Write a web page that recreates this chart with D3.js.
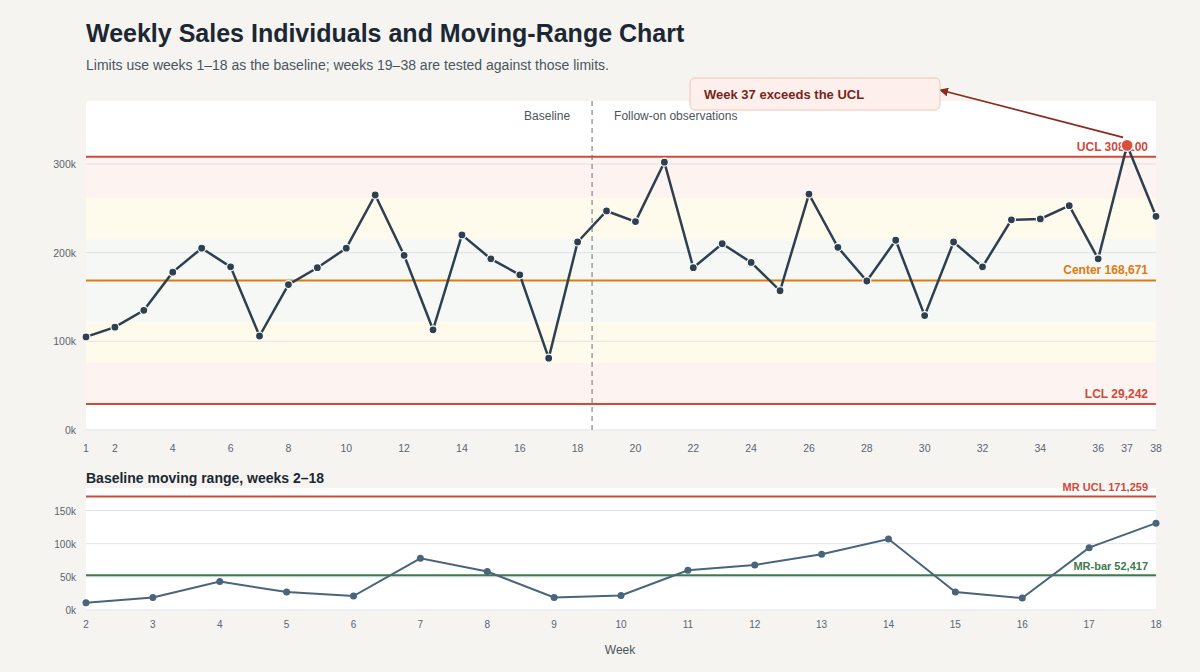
<!DOCTYPE html>
<html><head><meta charset="utf-8">
<script src="https://cdn.jsdelivr.net/npm/d3@7"></script>
<style>body{margin:0;background:#f6f4f0;font-family:"Liberation Sans",Arial,sans-serif}</style>
</head><body><svg id="c" width="1200" height="672"></svg>
<script>
const weeks = d3.range(1, 39);
const sales = [105,116,135,178,205,184,106,164,183,205,265,197,113,220,193,175,81,212,
  247,235,302,183,210,189,157,266,206,168,214,129,212,184,237,238,253,193,321,241].map(v=>v*1000);
const center = 168671, ucl = 308100, lcl = 29242, mrBar = 52417, mrUcl = 171259;
const xTicks = [1,2,4,6,8,10,12,14,16,18,20,22,24,26,28,30,32,34,36,37,38];
const yTicks = [0,100000,200000,300000];
const mrTicks = [0,50000,100000,150000];
const baselineEnd = 18, signalWeek = 37;

const svg = d3.select("#c");
const L=86,R=1156;
svg.append("text").attr("x",L).attr("y",42).attr("font-size",25).attr("font-weight","bold").attr("fill","#1b2733").text("Weekly Sales Individuals and Moving-Range Chart");
svg.append("text").attr("x",L).attr("y",70).attr("font-size",14).attr("fill","#4a5560").text("Limits use weeks 1–18 as the baseline; weeks 19–38 are tested against those limits.");

// top chart
const T1=101,B1=430;
const x = d3.scaleLinear().domain([1,38]).range([L,R]);
const y = d3.scaleLinear().domain([0,371000]).range([B1,T1]);
const g = svg.append("g");
g.append("rect").attr("x",L).attr("y",T1).attr("width",R-L).attr("height",B1-T1).attr("fill","#fff").attr("rx",3);
const s = (ucl-center)/3;
const zones=[[lcl,center-2*s,"#fdf3f1"],[center-2*s,center-s,"#fefaec"],[center-s,center+s,"#f6f8f5"],[center+s,center+2*s,"#fefaec"],[center+2*s,ucl,"#fdf3f1"]];
zones.forEach(z=>g.append("rect").attr("x",L).attr("width",R-L).attr("y",y(z[1])).attr("height",y(z[0])-y(z[1])).attr("fill",z[2]));
yTicks.forEach(t=>{g.append("line").attr("x1",L).attr("x2",R).attr("y1",y(t)).attr("y2",y(t)).attr("stroke","#dfe3e8");
  g.append("text").attr("x",L-10).attr("y",y(t)+4).attr("text-anchor","end").attr("font-size",10.5).attr("fill","#5a6570").text(t/1000+"k");});
xTicks.forEach(t=>g.append("text").attr("x",x(t)).attr("y",452).attr("text-anchor","middle").attr("font-size",10.5).attr("fill","#5a6570").text(t));
const xb = x(baselineEnd+0.5);
g.append("line").attr("x1",xb).attr("x2",xb).attr("y1",T1).attr("y2",B1).attr("stroke","#8a9199").attr("stroke-dasharray","5,4").attr("stroke-width",1.3);
g.append("text").attr("x",xb-22).attr("y",120).attr("text-anchor","end").attr("font-size",12).attr("fill","#4a5560").text("Baseline");
g.append("text").attr("x",xb+22).attr("y",120).attr("font-size",12).attr("fill","#4a5560").text("Follow-on observations");
[[ucl,"#d04a3a","UCL 308,100",-6],[center,"#e07a10","Center 168,671",-6],[lcl,"#d04a3a","LCL 29,242",-6]].forEach(l=>{
  g.append("line").attr("x1",L).attr("x2",R).attr("y1",y(l[0])).attr("y2",y(l[0])).attr("stroke",l[1]).attr("stroke-width",2);
  g.append("text").attr("x",R-8).attr("y",y(l[0])+l[3]).attr("text-anchor","end").attr("font-size",12).attr("font-weight","bold").attr("fill",l[1]).text(l[2]);});
const data = weeks.map((w,i)=>({w,v:sales[i]}));
g.append("path").datum(data).attr("d",d3.line().x(d=>x(d.w)).y(d=>y(d.v))).attr("fill","none").attr("stroke","#2e3f50").attr("stroke-width",2.5);
g.selectAll(".p").data(data).join("circle").attr("cx",d=>x(d.w)).attr("cy",d=>y(d.v)).attr("r",d=>d.w===signalWeek?6:4)
  .attr("fill",d=>d.w===signalWeek?"#d64f3f":"#2e3f50").attr("stroke","#fff").attr("stroke-width",1.2);
// annotation
svg.append("defs").append("marker").attr("id","ar").attr("viewBox","0 0 10 10").attr("refX",9).attr("refY",5).attr("markerWidth",5).attr("markerHeight",5).attr("orient","auto")
  .append("path").attr("d","M0,0L10,5L0,10z").attr("fill","#8b2a1f");
const sx=x(signalWeek), sy=y(sales[signalWeek-1]);
svg.append("line").attr("x1",sx-4).attr("y1",sy-8).attr("x2",940).attr("y2",90).attr("stroke","#8b2a1f").attr("stroke-width",1.8).attr("marker-end","url(#ar)");
svg.append("rect").attr("x",690).attr("y",78).attr("width",250).attr("height",32).attr("rx",5).attr("fill","#fdf0ec").attr("stroke","#f0c4b8");
svg.append("text").attr("x",704).attr("y",99).attr("font-size",13).attr("font-weight","bold").attr("fill","#7a2419").text("Week 37 exceeds the UCL");

// MR chart
const mrData = data.slice(1,baselineEnd).map((d,i)=>({w:d.w,v:Math.abs(d.v-data[i].v)}));
const T2=488,B2=610;
svg.append("text").attr("x",L).attr("y",483).attr("font-size",14).attr("font-weight","bold").attr("fill","#1b2733").text("Baseline moving range, weeks 2–18");
const x2 = d3.scaleLinear().domain([2,18]).range([L,R]);
const y2 = d3.scaleLinear().domain([0,184000]).range([B2,T2]);
svg.append("rect").attr("x",L).attr("y",T2).attr("width",R-L).attr("height",B2-T2).attr("fill","#fff");
mrTicks.forEach(t=>{svg.append("line").attr("x1",L).attr("x2",R).attr("y1",y2(t)).attr("y2",y2(t)).attr("stroke","#dfe3e8");
  svg.append("text").attr("x",L-10).attr("y",y2(t)+4).attr("text-anchor","end").attr("font-size",10).attr("fill","#5a6570").text(t/1000+"k");});
d3.range(2,19).forEach(t=>svg.append("text").attr("x",x2(t)).attr("y",628).attr("text-anchor","middle").attr("font-size",10).attr("fill","#5a6570").text(t));
[[mrUcl,"#d04a3a","MR UCL 171,259"],[mrBar,"#3d7a50","MR-bar 52,417"]].forEach(l=>{
  svg.append("line").attr("x1",L).attr("x2",R).attr("y1",y2(l[0])).attr("y2",y2(l[0])).attr("stroke",l[1]).attr("stroke-width",2);
  svg.append("text").attr("x",R-8).attr("y",y2(l[0])-5).attr("text-anchor","end").attr("font-size",11).attr("font-weight","bold").attr("fill",l[1]).text(l[2]);});
svg.append("path").datum(mrData).attr("d",d3.line().x(d=>x2(d.w)).y(d=>y2(d.v))).attr("fill","none").attr("stroke","#4a647c").attr("stroke-width",2);
svg.selectAll(".m").data(mrData).join("circle").attr("cx",d=>x2(d.w)).attr("cy",d=>y2(d.v)).attr("r",3.5).attr("fill","#4a647c");
svg.append("text").attr("x",620).attr("y",654).attr("text-anchor","middle").attr("font-size",12).attr("fill","#4a5560").text("Week");
</script></body></html>
